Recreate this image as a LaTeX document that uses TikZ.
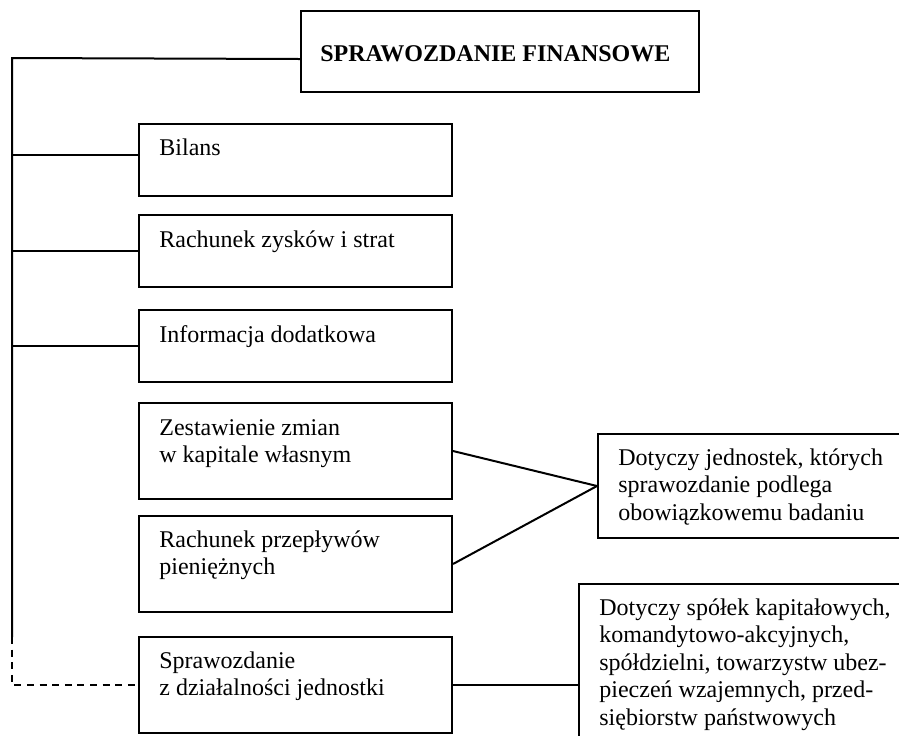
\documentclass[tikz,border=0pt]{standalone}
\usepackage{fontspec}
\setmainfont{Liberation Serif}
\newcommand{\mlines}[1]{\begin{tabular}[t]{@{}l@{}}#1\end{tabular}}
\begin{document}
\begin{tikzpicture}[x=0.5pt,y=-0.5pt,
  font=\fontsize{12}{13.75}\selectfont,
  box/.style={draw, line width=1pt, inner sep=0pt, anchor=north west},
  txt/.style={anchor=base west, inner sep=0pt},
  conn/.style={line width=1pt},
  dconn/.style={line width=1pt, dash pattern=on 3.5pt off 2.8pt}]
\clip (0,0) rectangle (899,735);
% boxes
\node[box, minimum width=199pt, minimum height=40.5pt] (fin) at (300,10) {};
\node[box, minimum width=156.5pt, minimum height=36pt] (b1) at (138,123) {};
\node[box, minimum width=156.5pt, minimum height=36pt] (b2) at (138,214) {};
\node[box, minimum width=156.5pt, minimum height=36pt] (b3) at (138,309) {};
\node[box, minimum width=156.5pt, minimum height=48pt] (b4) at (138,402) {};
\node[box, minimum width=156.5pt, minimum height=48pt] (b5) at (138,515) {};
\node[box, minimum width=156.5pt, minimum height=48pt] (b6) at (138,636) {};
\node[box, minimum width=190pt, minimum height=52pt] (r1) at (597,433) {};
\node[box, minimum width=190pt, minimum height=95pt] (r2) at (578,583) {};
% texts
\node[txt] (tfin) at (320,61) {\textbf{SPRAWOZDANIE FINANSOWE}};
\node[txt] (tb1) at (159,155) {Bilans};
\node[txt] (tb2) at (159,247) {Rachunek zysków i strat};
\node[txt] (tb3) at (159,342) {Informacja dodatkowa};
\node[txt] (tb4) at (159,435) {\mlines{Zestawienie zmian\\w kapitale własnym}};
\node[txt] (tb5) at (159,547) {\mlines{Rachunek przepływów\\pieniężnych}};
\node[txt] (tb6) at (159,668) {\mlines{Sprawozdanie\\z działalności jednostki}};
\node[txt] (tr1) at (618,465) {\mlines{Dotyczy jednostek, których\\sprawozdanie podlega\\obowiązkowemu badaniu}};
\node[txt] (tr2) at (599,615) {\mlines{Dotyczy spółek kapitałowych,\\komandytowo-akcyjnych,\\spółdzielni, towarzystw ubez-\\pieczeń wzajemnych, przed-\\siębiorstw państwowych}};
% connectors
\coordinate (ttop) at (12,58);
\coordinate (tbot) at (12,637);
\draw[conn] ([yshift=-3.75pt]fin.west) -- (ttop) -- (tbot);
\draw[dconn] (tbot) |- (b6.west);
\draw[conn] ([yshift=2.5pt]b1.west) -- ([yshift=2.5pt]b1.west -| ttop);
\draw[conn] (b2.west) -- (b2.west -| ttop);
\draw[conn] (b3.west) -- (b3.west -| ttop);
\draw[conn] (b4.east) -- (r1.west);
\draw[conn] (b5.east) -- (r1.west);
\draw[conn] (b6.east) -- (b6.east -| r2.west);
\end{tikzpicture}
\end{document}
